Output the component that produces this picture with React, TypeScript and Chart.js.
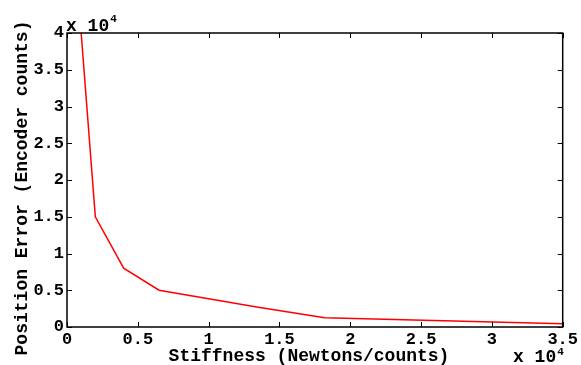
import React, { useEffect, useRef } from "react";
import { Chart, registerables } from "chart.js";

Chart.register(...registerables);

const stiffness = [0.1, 0.2, 0.4, 0.65, 1.35, 1.82, 3.5];
const positionError = [4, 1.5, 0.8, 0.5, 0.27, 0.125, 0.045];
const xTicks = [0, 0.5, 1, 1.5, 2, 2.5, 3, 3.5];
const yTicks = [0, 0.5, 1, 1.5, 2, 2.5, 3, 3.5, 4];
const xTitle = "Stiffness (Newtons/counts)";
const yTitle = "Position Error (Encoder counts)";
const multiplierBase = "x 10";
const multiplierExp = "4";

const FONT = "'Liberation Mono', 'DejaVu Sans Mono', monospace";

const framePlugin = {
  id: "matlabFrame",
  afterDraw(chart: any) {
    const { ctx, chartArea, scales } = chart;
    const { left, right, top, bottom } = chartArea;
    const xs = scales.x;
    const ys = scales.y;
    ctx.save();
    // ticks inward
    ctx.strokeStyle = "#000";
    ctx.lineWidth = 1;
    const tl = 5;
    xTicks.forEach((v) => {
      const px = Math.round(xs.getPixelForValue(v)) + 0.5;
      ctx.beginPath();
      ctx.moveTo(px, bottom);
      ctx.lineTo(px, bottom - tl);
      ctx.moveTo(px, top);
      ctx.lineTo(px, top + tl);
      ctx.stroke();
    });
    yTicks.forEach((v) => {
      const py = Math.round(ys.getPixelForValue(v)) + 0.5;
      ctx.beginPath();
      ctx.moveTo(left, py);
      ctx.lineTo(left + tl, py);
      ctx.moveTo(right, py);
      ctx.lineTo(right - tl, py);
      ctx.stroke();
    });
    // frame
    ctx.lineWidth = 1.5;
    ctx.strokeRect(left, top, right - left, bottom - top);

    // texts
    ctx.fillStyle = "#000";
    ctx.textBaseline = "alphabetic";
    ctx.font = `bold 18px ${FONT}`;
    ctx.textAlign = "left";
    ctx.fillText(multiplierBase, 66, 31);
    const w1 = ctx.measureText(multiplierBase).width;
    ctx.fillText(multiplierBase, 513, 362);
    const w2 = ctx.measureText(multiplierBase).width;
    ctx.font = `bold 11px ${FONT}`;
    ctx.fillText(multiplierExp, 66 + w1 + 1, 22);
    ctx.fillText(multiplierExp, 513 + w2 + 1, 355);

    ctx.font = `bold 18px ${FONT}`;
    ctx.textAlign = "center";
    ctx.fillText(xTitle, 309, 361);

    ctx.save();
    ctx.translate(27, 188);
    ctx.rotate(-Math.PI / 2);
    ctx.fillText(yTitle, 0, 0);
    ctx.restore();

    ctx.restore();
  },
};

export default function App() {
  const ref = useRef<HTMLCanvasElement>(null);
  useEffect(() => {
    if (!ref.current) return;
    const chart = new Chart(ref.current, {
      type: "line",
      data: {
        datasets: [
          {
            data: stiffness.map((s, i) => ({ x: s, y: positionError[i] })),
            borderColor: "#ff0000",
            borderWidth: 1.5,
            pointRadius: 0,
            tension: 0,
            fill: false,
          },
        ],
      },
      options: {
        animation: false,
        responsive: false,
        events: [],
        layout: { padding: { top: 33, right: 16, bottom: 0, left: 0 } },
        plugins: {
          legend: { display: false },
          tooltip: { enabled: false },
        },
        scales: {
          x: {
            type: "linear",
            min: 0,
            max: 3.5,
            afterFit: (s: any) => {
              s.height = 38;
            },
            afterBuildTicks: (s: any) => {
              s.ticks = xTicks.map((v) => ({ value: v }));
            },
            grid: { display: false, drawTicks: false },
            border: { display: false },
            ticks: {
              autoSkip: false,
              maxRotation: 0,
              padding: 3,
              color: "#000",
              font: { family: FONT, size: 17, weight: "bold" },
              callback: (v: any) => String(v),
            },
          },
          y: {
            type: "linear",
            min: 0,
            max: 4,
            afterFit: (s: any) => {
              s.width = 67;
            },
            afterBuildTicks: (s: any) => {
              s.ticks = yTicks.map((v) => ({ value: v }));
            },
            grid: { display: false, drawTicks: false },
            border: { display: false },
            ticks: {
              autoSkip: false,
              padding: 3,
              color: "#000",
              font: { family: FONT, size: 17, weight: "bold" },
              callback: (v: any) => String(v),
            },
          },
        },
      },
      plugins: [framePlugin],
    } as any);
    return () => chart.destroy();
  }, []);
  return (
    <div style={{ position: "absolute", left: 0, top: 0, width: 581, height: 365, background: "#fff" }}>
      <canvas ref={ref} width={581} height={365} style={{ display: "block" }} />
    </div>
  );
}
